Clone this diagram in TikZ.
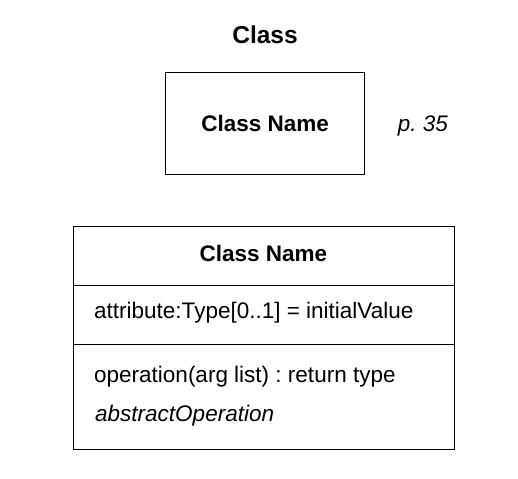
\documentclass[tikz,border=0pt]{standalone}
\usepackage{fontspec}
\setmainfont{Liberation Sans}
\frenchspacing
\begin{document}
\frenchspacing
\begin{tikzpicture}[x=1pt,y=-1pt,
  box/.style={draw, line width=1.4pt, inner sep=0pt, anchor=north west},
  regtext/.style={inner sep=0pt, font=\fontsize{22.5}{27}\selectfont},
  boldtext/.style={inner sep=0pt, font=\fontsize{22.5}{27}\selectfont\bfseries},
  ittext/.style={inner sep=0pt, font=\fontsize{22.5}{27}\selectfont\itshape}]
\useasboundingbox (0,0) rectangle (518,478);
% title
\node[inner sep=0pt, anchor=base, font=\fontsize{24.5}{29}\selectfont\bfseries] (title) at (265,43.3) {Class};
% simple class box
\node[box, minimum width=199pt, minimum height=102pt] (small) at (165,72) {};
\node[boldtext] (smallname) at (small.center) {Class Name};
\node[ittext, anchor=base] (page) at (423,131.7) {p. 35};
% full class box
\node[box, minimum width=381pt, minimum height=58.5pt] (hdr) at (73,226) {};
\node[box, minimum width=381pt, minimum height=59.5pt] (attrs) at (73,284.5) {};
\node[box, minimum width=381pt, minimum height=104.5pt] (ops) at (73,344) {};
\node[boldtext, anchor=base] (hname) at (263.5,261.7) {Class Name};
\node[regtext, anchor=base west] (attr) at (94,318) {attribute:Type[0..1] = initialValue};
\node[regtext, anchor=base west] (op) at (94,382.7) {operation(arg list) : return type};
\node[ittext, anchor=base west] (absop) at (95,421.7) {abstractOperation};
\end{tikzpicture}
\end{document}
